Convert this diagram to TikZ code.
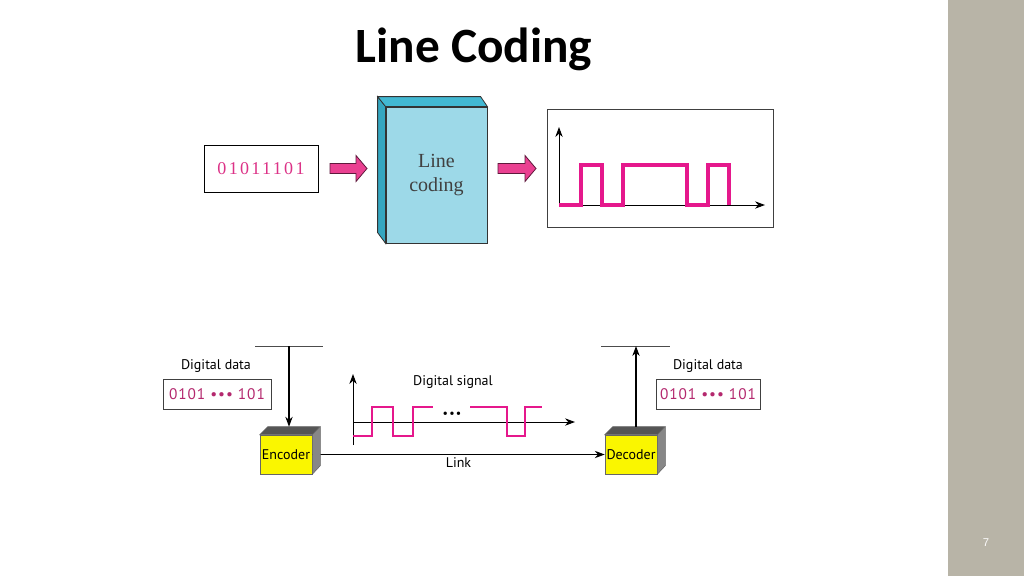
\documentclass[tikz,border=0pt]{standalone}
\usepackage{fontspec}
\setmainfont{Liberation Serif}
\newfontfamily\titlefont{Carlito}
\newfontfamily\labelfont{PT Sans}
\newfontfamily\numfont{Liberation Sans}
\usepackage{tikz}
\usetikzlibrary{arrows.meta,calc}

\definecolor{sigpink}{RGB}{229,24,140}
\definecolor{arrpink}{RGB}{234,64,145}
\definecolor{arredge}{RGB}{95,25,60}
\definecolor{bitpink}{RGB}{220,50,135}
\definecolor{datapink}{RGB}{180,40,110}
\definecolor{boxcyan}{RGB}{157,217,232}
\definecolor{sidecyan}{RGB}{52,166,192}
\definecolor{topcyan}{RGB}{66,184,210}
\definecolor{boxyellow}{RGB}{250,246,0}
\definecolor{topgray}{RGB}{85,85,85}
\definecolor{sidegray}{RGB}{135,135,135}
\definecolor{barcol}{RGB}{184,180,167}

\tikzset{
  labtxt/.style={inner sep=0.75pt, font=\labelfont\fontsize{10.5}{12}\selectfont},
  databox/.style={draw=black!75, line width=0.6pt, fill=white, inner sep=0pt, minimum height=22.5pt,
    text=datapink, font=\labelfont\fontsize{11.5}{13}\selectfont\addfontfeatures{LetterSpace=6}},
  coder/.style={fill=boxyellow, draw=black!60, line width=0.4pt, inner sep=0pt, minimum width=39pt,
    minimum height=29.25pt, font=\labelfont\fontsize{10.5}{12}\selectfont},
  blockarrow/.style={fill=arrpink, draw=arredge, line width=0.6pt},
  axis/.style={line width=0.7pt, -{Stealth[length=7.5pt,width=5.5pt]}},
  sigline/.style={sigpink, line width=2pt},
  conn/.style={line width=0.9pt, -{Stealth[length=7.5pt,width=5.5pt]}}
}

\begin{document}
\begin{tikzpicture}[x=0.75pt,y=0.75pt,yscale=-1,xscale=1]
\useasboundingbox (0,0) rectangle (1024,576);
\fill[white] (0,0) rectangle (1024,576);
\fill[barcol] (948,0) rectangle (1024,576);
\node[text=white!94!barcol, font=\numfont\fontsize{8.5}{10}\selectfont] (pgno) at (986,543) {7};

\node[font=\titlefont\bfseries\fontsize{37}{40}\selectfont] (title) at (474,49) {Line Coding};

% upper figure
\node[draw, line width=0.75pt, minimum width=85.5pt, minimum height=35.25pt, inner sep=0pt, text=bitpink,
  font=\fontsize{13.5}{16}\selectfont\addfontfeatures{LetterSpace=13}] (bits) at (261,168.5) {01011101};
\node[fill=boxcyan, draw=black!80, line width=0.6pt, minimum width=75.75pt, minimum height=102pt, inner sep=0pt,
  align=center, text=black!75, font=\fontsize{15}{18}\selectfont] (blk) at (436.5,175) {Line\\coding};
\draw[fill=sidecyan, draw=black!80, line width=0.6pt] (blk.north west) -- ++(-8,-10) -- ++(0,136) -- (blk.south west) -- cycle;
\draw[fill=topcyan, draw=black!80, line width=0.6pt] (blk.north west) -- ++(-8,-10) -- ++(103,0) -- (blk.north east) -- cycle;
\node[draw=black!75, line width=0.75pt, minimum width=169.5pt, minimum height=88.5pt, inner sep=0pt] (sig) at (660,168) {};

\draw[blockarrow] (330,163.5) -- (356,163.5) -- (356,155.5) -- (367,168.5) -- (356,181.5) -- (356,173.5) -- (330,173.5) -- cycle;
\draw[blockarrow] (498,163.5) -- (525,163.5) -- (525,155.5) -- (536,168.5) -- (525,181.5) -- (525,173.5) -- (498,173.5) -- cycle;

\coordinate (o1) at (559,205);
\draw[axis] (o1) -- ++(0,-78);
\draw[axis] (o1) -- ++(206,0);
\draw[sigline, line width=2.3pt] (o1) -- (581,205) -- (581,165) -- (602,165) -- (602,205) -- (623,205) -- (623,165)
  -- (687,165) -- (687,205) -- (708,205) -- (708,165) -- (729,165) -- (729,205);

% lower figure
\node[labtxt] (dlab1) at (216,366) {Digital data};
\node[databox, minimum width=81pt] (dbox1) at (217,394) {0101 ••• 101};
\node[labtxt] (dlab2) at (708,366) {Digital data};
\node[databox, minimum width=78pt] (dbox2) at (708,394) {0101 ••• 101};

\node[coder] (enc) at (286,454.5) {Encoder};
\node[coder] (dec) at (631,454.5) {Decoder};

\draw[conn] (enc.east) -- (dec.west) node[midway, below=1pt, labtxt] (link) {Link};

\draw[fill=topgray, draw=black!60, line width=0.4pt] (enc.north west) -- ++(8,-8) -- ++(52,0) -- (enc.north east) -- cycle;
\draw[fill=sidegray, draw=black!60, line width=0.4pt] (enc.north east) -- ++(8,-8) -- ++(0,39) -- (enc.south east) -- cycle;
\draw[fill=topgray, draw=black!60, line width=0.4pt] (dec.north west) -- ++(8,-8) -- ++(52,0) -- (dec.north east) -- cycle;
\draw[fill=sidegray, draw=black!60, line width=0.4pt] (dec.north east) -- ++(8,-8) -- ++(0,39) -- (dec.south east) -- cycle;

\coordinate (din) at (289,346);
\coordinate (dout) at (636,346);
\draw[black!70, line width=0.5pt] (255,346) -- (323,346);
\draw[black!70, line width=0.5pt] (601,346) -- (670,346);
\draw[conn] (din) -- ($(din |- enc.north)+(0,-8)$);
\draw[conn] ($(dout |- dec.north)+(0,-8)$) -- (dout);

\node[labtxt] (dsig) at (453,382) {Digital signal};
\coordinate (o2) at (353,422);
\draw[axis] (353,445) -- (353,374);
\draw[axis] (o2) -- (575,422);
\draw[sigline] (353,436) -- (372,436) -- (372,407) -- (393,407) -- (393,436) -- (413,436) -- (413,407) -- (433,407);
\draw[sigline] (470,407) -- (507,407) -- (507,436) -- (525,436) -- (525,407) -- (542,407);
\node[font=\labelfont\fontsize{9}{10}\selectfont\addfontfeatures{LetterSpace=10}] (gap) at (452,415) {•••};
\end{tikzpicture}
\end{document}
